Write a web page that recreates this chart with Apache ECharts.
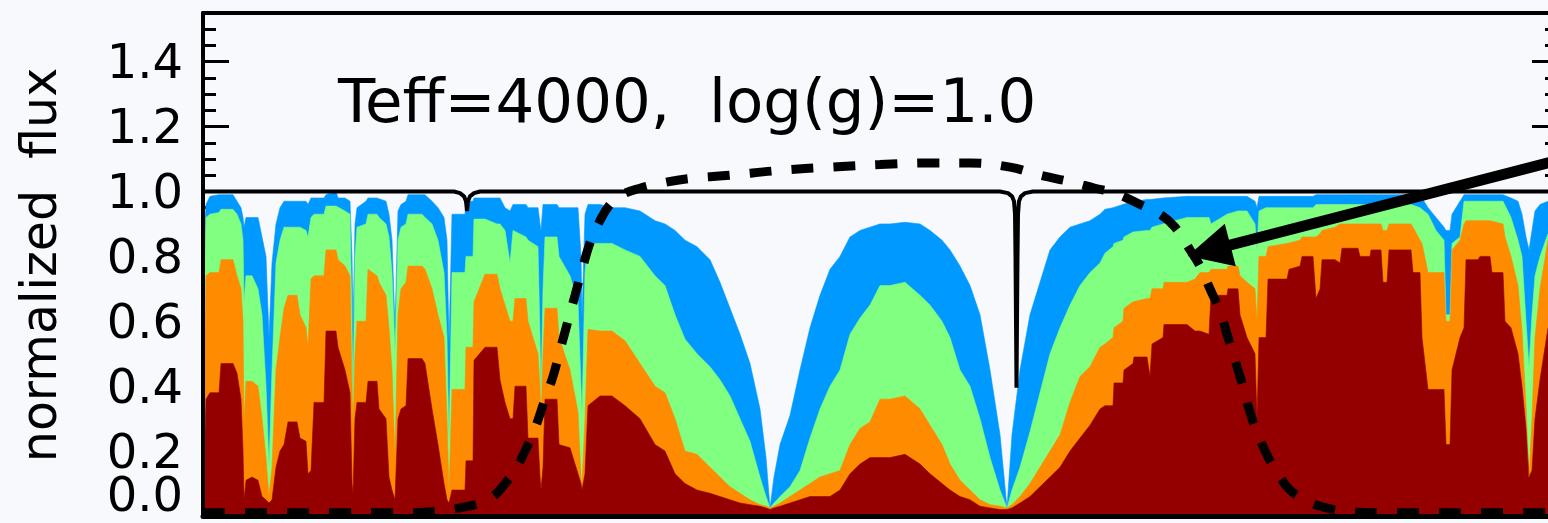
<!DOCTYPE html>
<html>
<head>
<meta charset="utf-8">
<script src="https://cdn.jsdelivr.net/npm/echarts@6/dist/echarts.min.js"></script>
<style>
html,body{margin:0;padding:0;background:#f8f9fd;}
#c{width:1548px;height:523px;}
</style>
</head>
<body>
<div id="c"></div>
<script>
// ---- data (x = channel index along the spectrum, y = normalized flux) ----
var wave = [
0,3,7,16,18,30,34,38,40,41,
43,49,55,59,63,66,69,73,77,81,
85,94,97,103,105,108,111,121,123,133,
135,142,147,149,150,152,154,163,165,174,
176,183,186,189,192,195,198,203,205,219,
222,229,235,241,244,246,249,262,263,270,
271,282,294,297,302,307,310,312,323,325,
335,337,338,340,342,354,356,367,375,378,
379,382,385,397,409,422,437,452,462,472,
482,494,507,517,527,537,547,557,563,567,
571,577,587,597,607,617,627,637,647,657,
667,677,687,702,717,727,739,747,757,767,
777,787,797,804,809,817,827,837,847,857,
867,877,887,897,902,910,911,920,921,930,
931,944,947,949,960,961,984,992,997,1006,
1008,1024,1025,1035,1037,1044,1052,1054,1056,1063,
1065,1084,1086,1097,1099,1110,1113,1117,1119,1132,
1137,1139,1155,1157,1167,1168,1178,1180,1184,1186,
1208,1210,1217,1219,1225,1233,1241,1243,1247,1249,
1257,1261,1263,1275,1277,1287,1289,1300,1302,1308,
1315,1319,1323,1326,1329,1332,1337,1345,1355];

var fluxBlue = [
.80,.96,.985,.99,.99,.99,.97,.95,.92,.89,
.92,.92,.92,.86,.80,.55,.78,.90,.95,.97,
.97,.97,.97,.97,.96,.98,.98,.98,.99,1.0,
.98,.98,.97,.80,.575,.90,.95,.97,.98,.98,
.98,.97,.93,.85,.58,.94,.96,.97,.99,.99,
.99,.97,.95,.92,.85,.53,.93,.93,.97,.97,
.98,.98,.98,.98,.95,.94,.96,.96,.96,.95,
.95,.90,.88,.96,.96,.96,.95,.95,.95,.80,
.61,.93,.96,.96,.95,.95,.94,.91,.90,.88,
.85,.83,.79,.72,.64,.56,.47,.33,.18,.025,
.12,.22,.31,.45,.58,.68,.76,.80,.86,.88,
.89,.90,.90,.905,.90,.88,.85,.82,.77,.71,
.62,.45,.25,.025,.25,.45,.62,.72,.82,.86,
.89,.90,.91,.93,.945,.95,.95,.96,.96,.97,
.97,.975,.975,.975,.98,.98,.985,.985,.985,.985,
.985,.985,.985,.985,.985,.985,.97,.95,.985,.985,
.985,.985,.985,.985,.985,.985,.99,.99,.99,.99,
.99,.99,.99,.99,.99,.99,.99,.99,.99,.99,
.99,.99,.99,.98,.95,.92,.89,.88,.88,.93,
.97,.99,.99,.99,.99,.99,.99,.99,.99,.98,
.97,.93,.86,.82,.88,.94,.96,.97,.97];

var fluxGreen = [
.55,.92,.93,.935,.945,.945,.93,.90,.85,.66,
.74,.74,.70,.62,.40,.15,.45,.78,.85,.89,
.89,.89,.89,.88,.86,.92,.93,.93,.955,.955,
.95,.94,.93,.60,.35,.80,.89,.90,.93,.93,
.92,.90,.86,.75,.51,.85,.89,.90,.93,.93,
.92,.90,.85,.75,.55,.22,.75,.75,.80,.80,
.915,.915,.90,.90,.88,.78,.88,.88,.86,.85,
.83,.55,.37,.70,.86,.86,.80,.74,.66,.40,
.31,.75,.84,.84,.84,.82,.80,.74,.71,.62,
.545,.50,.46,.42,.37,.30,.23,.12,.06,.025,
.04,.06,.09,.14,.24,.33,.40,.45,.56,.61,
.65,.71,.71,.72,.68,.65,.60,.55,.45,.40,
.30,.18,.08,.025,.08,.15,.26,.38,.50,.58,
.65,.71,.75,.78,.81,.83,.84,.85,.86,.875,
.875,.88,.88,.89,.90,.90,.92,.92,.92,.92,
.90,.93,.93,.94,.94,.94,.90,.82,.94,.95,
.95,.95,.95,.95,.95,.95,.96,.96,.96,.96,
.96,.96,.96,.96,.96,.96,.96,.96,.96,.96,
.96,.96,.95,.95,.93,.88,.85,.62,.62,.84,
.86,.97,.97,.97,.97,.97,.97,.97,.97,.92,
.85,.80,.60,.46,.62,.74,.80,.87,.88];

var fluxOrange = [
.25,.74,.75,.75,.79,.79,.74,.70,.60,.28,
.415,.415,.40,.30,.18,.06,.15,.45,.55,.64,
.68,.68,.62,.58,.52,.73,.74,.74,.82,.82,
.79,.77,.74,.40,.28,.50,.60,.60,.76,.74,
.72,.68,.58,.45,.18,.62,.70,.72,.77,.77,
.76,.70,.62,.55,.30,.07,.39,.39,.52,.52,
.66,.745,.745,.70,.65,.60,.60,.67,.67,.60,
.50,.40,.30,.50,.64,.64,.55,.45,.32,.12,
.10,.30,.575,.57,.57,.54,.47,.40,.38,.30,
.20,.19,.15,.12,.09,.07,.05,.035,.03,.025,
.03,.04,.06,.08,.10,.12,.13,.14,.22,.27,
.29,.36,.36,.37,.33,.28,.22,.16,.11,.08,
.05,.035,.03,.025,.035,.06,.10,.15,.20,.25,
.35,.43,.46,.52,.53,.55,.58,.60,.64,.66,
.66,.67,.67,.70,.70,.72,.72,.73,.75,.75,
.76,.76,.77,.77,.74,.72,.70,.60,.80,.80,
.83,.84,.84,.85,.86,.86,.86,.87,.88,.89,
.90,.90,.90,.90,.90,.90,.90,.88,.88,.90,
.90,.89,.85,.84,.75,.75,.75,.60,.60,.82,
.85,.90,.91,.91,.91,.91,.91,.90,.86,.80,
.71,.57,.34,.12,.30,.55,.70,.85,.86];

var fluxRed = [
.05,.36,.38,.38,.47,.47,.44,.36,.20,.05,
.11,.12,.11,.06,.05,.04,.05,.15,.20,.22,
.29,.29,.24,.23,.13,.14,.35,.35,.57,.57,
.52,.45,.38,.10,.07,.30,.35,.35,.415,.415,
.33,.30,.12,.08,.05,.30,.33,.34,.485,.485,
.47,.33,.22,.10,.05,.04,.08,.08,.17,.17,
.48,.52,.52,.42,.35,.30,.30,.40,.40,.24,
.24,.12,.08,.15,.36,.36,.22,.21,.13,.10,
.08,.13,.34,.37,.37,.34,.30,.22,.20,.13,
.10,.08,.07,.06,.05,.04,.035,.03,.025,.02,
.025,.03,.04,.05,.06,.06,.06,.08,.13,.16,
.18,.18,.18,.19,.16,.13,.10,.08,.06,.05,
.03,.025,.02,.02,.025,.04,.06,.09,.12,.15,
.20,.24,.28,.33,.34,.34,.41,.41,.45,.47,
.49,.49,.43,.53,.55,.59,.59,.57,.57,.56,
.68,.68,.70,.70,.62,.55,.50,.30,.55,.55,
.73,.73,.76,.77,.80,.80,.67,.70,.79,.79,
.78,.825,.825,.80,.80,.82,.82,.72,.72,.82,
.82,.75,.75,.55,.39,.39,.39,.22,.22,.45,
.55,.58,.79,.79,.80,.80,.75,.75,.60,.58,
.50,.40,.27,.12,.14,.30,.42,.58,.60];

// continuum reference line (1.0 with two narrow lines)
var contX = [0,251,257,261,263,264,265,267,271,277,797,805,809,811,812,812.5,813,813.5,814,814.5,815,816,818,822,830,1355];
var contY = [1,1,.995,.985,.97,.94,.97,.985,.995,1,1,.995,.985,.97,.93,.8,.6,.395,.6,.8,.93,.97,.985,.995,1,1];

// filter transmission curve (dashed)
var filterX = [0,197,237,257,277,292,302,312,322,332,342,350,357,364,372,380,388,397,407,419,437,457,487,527,577,627,677,727,767,807,837,867,892,912,937,957,972,987,997,1007,1017,1025,1037,1047,1055,1067,1077,1087,1102,1117,1142,1177,1247,1355];
var filterY = [.01,.01,.015,.025,.04,.065,.10,.14,.20,.27,.36,.43,.51,.59,.68,.77,.85,.91,.96,.99,1.01,1.025,1.04,1.05,1.065,1.075,1.083,1.088,1.088,1.075,1.05,1.03,1.01,.995,.96,.93,.89,.82,.77,.70,.63,.55,.43,.32,.25,.17,.12,.08,.05,.03,.015,.01,.01,.01];

// annotation arrow (data coordinates: start, end)
var arrowStart = [1355, 1.096];
var arrowEnd = [1006, 0.818];

var yTickLabels = ['0.0','0.2','0.4','0.6','0.8','1.0','1.2','1.4'];
var titleText = 'Teff=4000,  log(g)=1.0';
var yTitle = 'normalized  flux';

// ---- chart ----
var FONT = 'DejaVu Sans';
function pairs(xs, ys){ return xs.map(function(x,i){ return [x, ys[i]]; }); }
function area(name, ys, color){
  return {
    name: name, type: 'line', data: pairs(wave, ys),
    symbol: 'none', showSymbol: false, silent: true, sampling: null,
    lineStyle: {width: 0.6, color: color},
    areaStyle: {color: color, opacity: 1, origin: 'start'},
    z: 2
  };
}
function tickIndex(v){
  var k = Math.round(v / 0.2);
  if (Math.abs(v - k * 0.2) > 1e-6 || k >= yTickLabels.length) return -1;
  return k;
}
var chart = echarts.init(document.getElementById('c'), null, {renderer: 'canvas'});
var yBase = {type: 'value', min: 0, max: 1.55, splitLine: {show: false}, axisLine: {show: false}, axisLabel: {show: false}};
function yAx(extra){ return Object.assign({}, yBase, extra); }
var labelBase = {show: true, margin: 20, color: '#000', fontFamily: FONT, fontSize: 48, hideOverlap: false};
chart.setOption({
  animation: false,
  backgroundColor: '#f8f9fd',
  grid: {left: 203, right: -10, top: 13, bottom: 7, containLabel: false, outerBoundsMode: 'none'},
  xAxis: [
    {type: 'value', min: 0, max: 1355, position: 'bottom', z: 10,
     axisLine: {show: true, onZero: false, lineStyle: {color: '#000', width: 5}},
     axisTick: {show: false}, axisLabel: {show: false}, splitLine: {show: false}},
    {type: 'value', min: 0, max: 1355, position: 'top', z: 10,
     axisLine: {show: true, onZero: false, lineStyle: {color: '#000', width: 4}},
     axisTick: {show: false}, axisLabel: {show: false}, splitLine: {show: false}}
  ],
  yAxis: [
    // major ticks + labels 0.2 .. 1.4
    yAx({position: 'left', interval: 0.2,
      axisTick: {show: true, inside: true, length: 26, lineStyle: {color: '#000', width: 3}},
      axisLabel: Object.assign({}, labelBase, {
        formatter: function(v){ var k = tickIndex(v); return k > 0 ? '{a|' + yTickLabels[k] + '}' : ''; },
        rich: {a: {fontFamily: FONT, fontSize: 48, color: '#000', padding: [8, 0, 0, 0]}}})}),
    // minor ticks + the raised 0.0 label
    yAx({position: 'left', interval: 0.05,
      axisTick: {show: true, inside: true, length: 13, lineStyle: {color: '#000', width: 3}},
      axisLabel: Object.assign({}, labelBase, {showMinLabel: true,
        formatter: function(v){ return tickIndex(v) === 0 ? '{z|' + yTickLabels[0] + '}' : ''; },
        rich: {z: {fontFamily: FONT, fontSize: 48, color: '#000', padding: [0, 0, 34, 0]}}})}),
    yAx({position: 'right', interval: 0.2,
      axisTick: {show: true, inside: true, length: 26, lineStyle: {color: '#000', width: 3}}}),
    yAx({position: 'right', interval: 0.05,
      axisTick: {show: true, inside: true, length: 13, lineStyle: {color: '#000', width: 3}}}),
    yAx({position: 'left', z: 10, axisTick: {show: false},
      axisLine: {show: true, onZero: false, lineStyle: {color: '#000', width: 4}}})
  ],
  series: [
    area('blue', fluxBlue, '#0099ff'),
    area('green', fluxGreen, '#80ff80'),
    area('orange', fluxOrange, '#ff8c00'),
    area('darkred', fluxRed, '#940000'),
    {name: 'continuum', type: 'line', data: pairs(contX, contY), symbol: 'none', silent: true,
     lineStyle: {color: '#000', width: 4}, z: 3},
    {name: 'filter', type: 'line', data: pairs(filterX, filterY), symbol: 'none', silent: true, smooth: 0.4,
     lineStyle: {color: '#000', width: 9, type: [22, 20], cap: 'butt'}, z: 4},
    {name: 'arrow', type: 'lines', coordinateSystem: 'cartesian2d', silent: true, z: 5,
     symbol: ['none', 'triangle'], symbolSize: 44,
     lineStyle: {color: '#000', width: 11, opacity: 1, curveness: 0},
     data: [{coords: [arrowStart, arrowEnd]}]}
  ],
  graphic: [
    {type: 'text', x: 338, y: 106, silent: true, z: 20,
     style: {text: titleText, fill: '#000', font: '61px "' + FONT + '"', align: 'left', verticalAlign: 'middle'}},
    {type: 'text', x: 43, y: 265, rotation: Math.PI / 2, silent: true, z: 20,
     style: {text: yTitle, fill: '#000', font: '49px "' + FONT + '"', align: 'center', verticalAlign: 'middle'}}
  ]
});
</script>
</body>
</html>
